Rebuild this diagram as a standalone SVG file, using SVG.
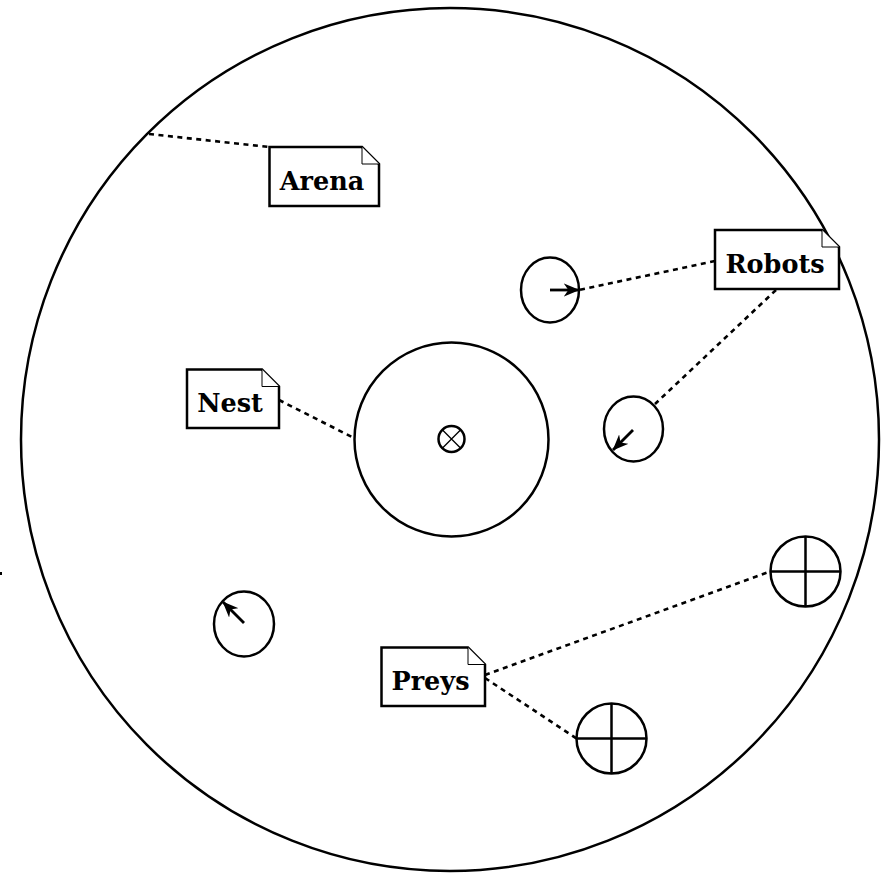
<svg xmlns="http://www.w3.org/2000/svg" width="893" height="873" viewBox="0 0 893 873">
<style>
.s{fill:none;stroke:#000;stroke-width:2.5}
.d{fill:none;stroke:#000;stroke-width:2.6;stroke-dasharray:5 4.5}
.n{fill:#fff;stroke:#000;stroke-width:2.5}
.f{fill:#fff;stroke:#000;stroke-width:1}
.t{font-family:"DejaVu Serif",serif;font-weight:bold;font-size:25.5px;fill:#000}
.a{stroke:#000;stroke-width:2.8;fill:none}
</style>
<defs>
<marker id="ah" viewBox="0 0 12 10" refX="11.5" refY="5" markerWidth="16" markerHeight="13.3" orient="auto" markerUnits="userSpaceOnUse">
<path d="M0,0 L12,5 L0,10 L3.5,5 Z" fill="#000"/>
</marker>
</defs>
<rect x="0" y="572" width="2" height="3" fill="#000"/>
<g id="arena"><ellipse class="s" cx="450" cy="439.5" rx="429" ry="431.5"/></g>
<g id="nest">
<circle class="s" cx="451.5" cy="439.5" r="97"/>
<circle class="s" cx="451.5" cy="439" r="13"/>
<path d="M442.3,429.8 L460.7,448.2 M460.7,429.8 L442.3,448.2" stroke="#000" stroke-width="1.3"/>
</g>
<g id="robot1"><ellipse class="s" cx="550" cy="290" rx="29" ry="32.5"/><line class="a" x1="550" y1="290" x2="579" y2="290" marker-end="url(#ah)"/></g>
<g id="robot2"><ellipse class="s" cx="633.5" cy="429" rx="29.5" ry="32.5"/><line class="a" x1="633" y1="430" x2="613" y2="450" marker-end="url(#ah)"/></g>
<g id="robot3"><ellipse class="s" cx="244" cy="624" rx="30" ry="32.5"/><line class="a" x1="244" y1="623" x2="223" y2="602" marker-end="url(#ah)"/></g>
<g id="prey1"><circle class="s" cx="805.5" cy="571.5" r="35"/><path class="s" d="M770.5,571.5 H840.5 M805.5,536.5 V606.5"/></g>
<g id="prey2"><circle class="s" cx="611.5" cy="738.5" r="35"/><path class="s" d="M576.5,738.5 H646.5 M611.5,703.5 V773.5"/></g>
<g id="connectors">
<line class="d" x1="149" y1="134" x2="269" y2="147"/>
<line class="d" x1="715" y1="261" x2="579" y2="290"/>
<line class="d" x1="776" y1="290" x2="655" y2="404"/>
<line class="d" x1="279" y1="400" x2="354" y2="438"/>
<line class="d" x1="485" y1="675" x2="770" y2="571.5"/>
<line class="d" x1="485" y1="678" x2="576.5" y2="738.5"/>
</g>
<g id="note-arena">
<path class="n" d="M269.5,147 H362 L379,164 V206 H269.5 Z"/>
<path class="f" d="M362,147 V164 H379"/>
<text class="t" x="322" y="190" text-anchor="middle">Arena</text>
</g>
<g id="note-robots">
<path class="n" d="M715,230 H822 L839,247 V289 H715 Z"/>
<path class="f" d="M822,230 V247 H839"/>
<text class="t" x="775" y="273" text-anchor="middle">Robots</text>
</g>
<g id="note-nest">
<path class="n" d="M187,369.5 H262 L279,386.5 V428 H187 Z"/>
<path class="f" d="M262,369.5 V386.5 H279"/>
<text class="t" x="230" y="412" text-anchor="middle">Nest</text>
</g>
<g id="note-preys">
<path class="n" d="M381.5,647.5 H468 L485,664.5 V706 H381.5 Z"/>
<path class="f" d="M468,647.5 V664.5 H485"/>
<text class="t" x="430.5" y="690" text-anchor="middle">Preys</text>
</g>
</svg>
